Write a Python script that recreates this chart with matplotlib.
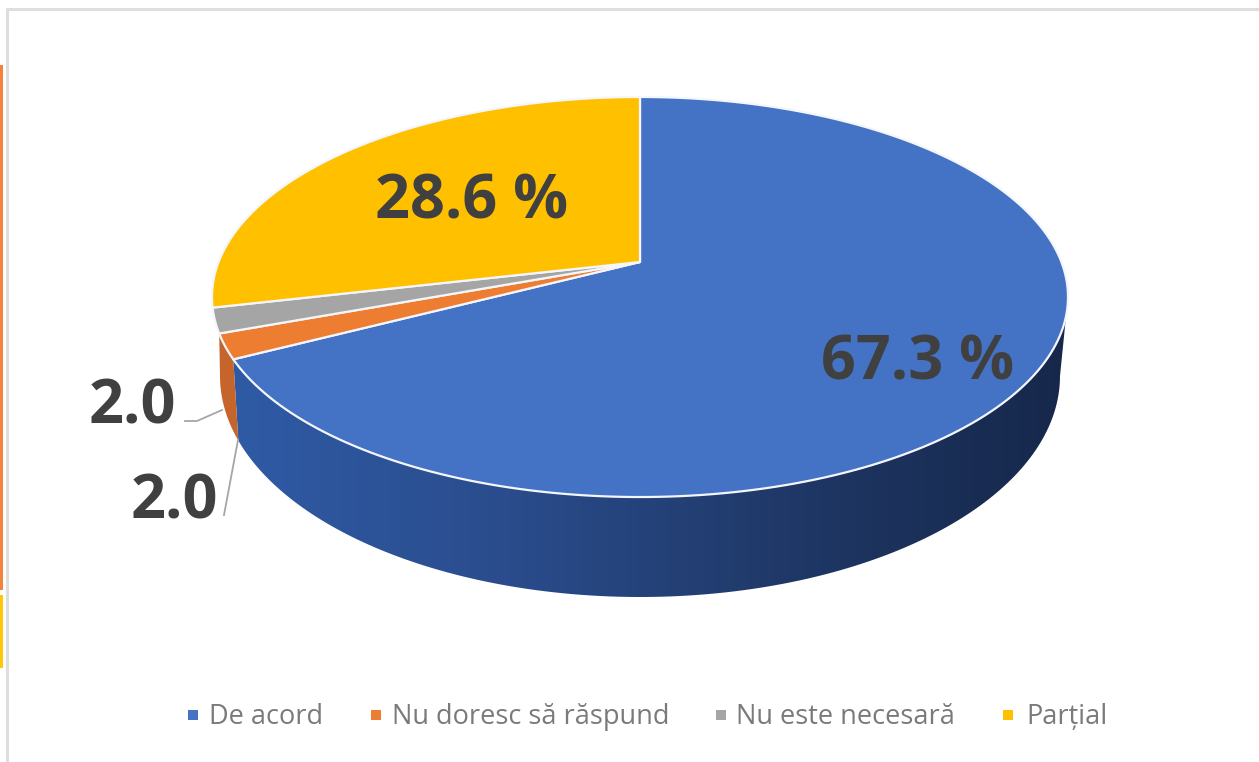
import numpy as np
import matplotlib
matplotlib.use("Agg")
import matplotlib.pyplot as plt
from matplotlib.colors import LinearSegmentedColormap
from matplotlib.patches import Polygon, Rectangle

# Date
categories = ["De acord", "Nu doresc să răspund", "Nu este necesară", "Parțial"]
values = [67.3, 2.0, 2.0, 28.6]
value_labels = ["67.3 %", "2.0", "2.0", "28.6 %"]
colors = ["#4472C4", "#ED7D31", "#A5A5A5", "#FFC000"]

# Geometrie (pixeli)
apex_x, apex_y = 640, 262
top_a, top_b, persp = 421.4, 193.9, 0.175
low_x, low_y, low_rx, low_ry = 640, 376, 420, 221


def rim(theta):
    # punct pe marginea de sus, cu perspectiva; theta in grade, de la ora 12, in sens orar
    t = np.radians(theta)
    d = 1 + persp * np.cos(t)
    return np.column_stack([apex_x + top_a * np.sin(t) / d, apex_y - top_b * np.cos(t) / d])


def low_rim(phi):
    t = np.radians(phi)
    return np.column_stack([low_x + low_rx * np.sin(t), low_y - low_ry * np.cos(t)])


fig = plt.figure(figsize=(12.59, 7.62), dpi=100)
ax = fig.add_axes([0, 0, 1, 1])
ax.set_xlim(0, 1259)
ax.set_ylim(762, 0)
ax.axis("off")

# Marginea paginii
ax.add_patch(Rectangle((0, 65), 3, 525, color="#F5823A", lw=0))
ax.add_patch(Rectangle((0, 595), 3, 73, color="#FFC60A", lw=0))
ax.plot([7, 7, 1259], [762, 9, 9], color="#DEDEDE", lw=2.2)

# Unghiurile feliilor
angles = np.cumsum([0] + values) / sum(values) * 360

# Peretele albastru, cu gradient
wall_split = 253
wall_pts = np.vstack([rim(np.linspace(angles[1], 100, 120)), low_rim(np.linspace(90, wall_split, 160))])
wall = Polygon(wall_pts, closed=True, fc="none", ec="none")
ax.add_patch(wall)
cmap = LinearSegmentedColormap.from_list("wall", ["#2F5BA6", "#2A4C8C", "#1F3867", "#16274A"])
img = ax.imshow(np.linspace(0, 1, 256)[None, :], extent=[225, 1070, 610, 280], cmap=cmap, aspect="auto", zorder=2)
img.set_clip_path(wall)
ax.set_xlim(0, 1259)
ax.set_ylim(762, 0)

# Peretele portocaliu
orange_wall = np.vstack([rim(np.linspace(angles[1], angles[2], 10)), low_rim(np.linspace(270, wall_split, 20))])
ax.add_patch(Polygon(orange_wall, closed=True, fc="#C5652B", ec="none", zorder=2))

# Feliile de sus
for i, c in enumerate(colors):
    pts = np.vstack([[[apex_x, apex_y]], rim(np.linspace(angles[i], angles[i + 1], 200))])
    ax.add_patch(Polygon(pts, closed=True, fc=c, ec="#F4F6FB", lw=1.6, joinstyle="round", zorder=3))

# Etichete
label_pos = [(918, 364), (132, 408), (174, 503), (472, 203)]
for lab, (x, y) in zip(value_labels, label_pos):
    ax.text(x, y, lab, fontsize=44, fontweight="bold", family="Open Sans", color="#404040",
            ha="center", va="center", zorder=5)

# Linii de legatura
ax.plot([185, 197, 222], [421, 421, 410], color="#A6A6A6", lw=1.3, zorder=4)
ax.plot([224, 238], [515, 440], color="#A6A6A6", lw=1.3, zorder=4)

# Legenda
marker_x = [193, 376, 721, 1008]
text_x = [209, 392, 736, 1026]
for name, c, mx, tx in zip(categories, colors, marker_x, text_x):
    ax.add_patch(Rectangle((mx - 5, 710), 10, 10, color=c, lw=0))
    ax.text(tx, 717, name, fontsize=19.5, family="Open Sans", color="#7A7A7A", ha="left", va="center")

fig.savefig("out.png", dpi=100)
